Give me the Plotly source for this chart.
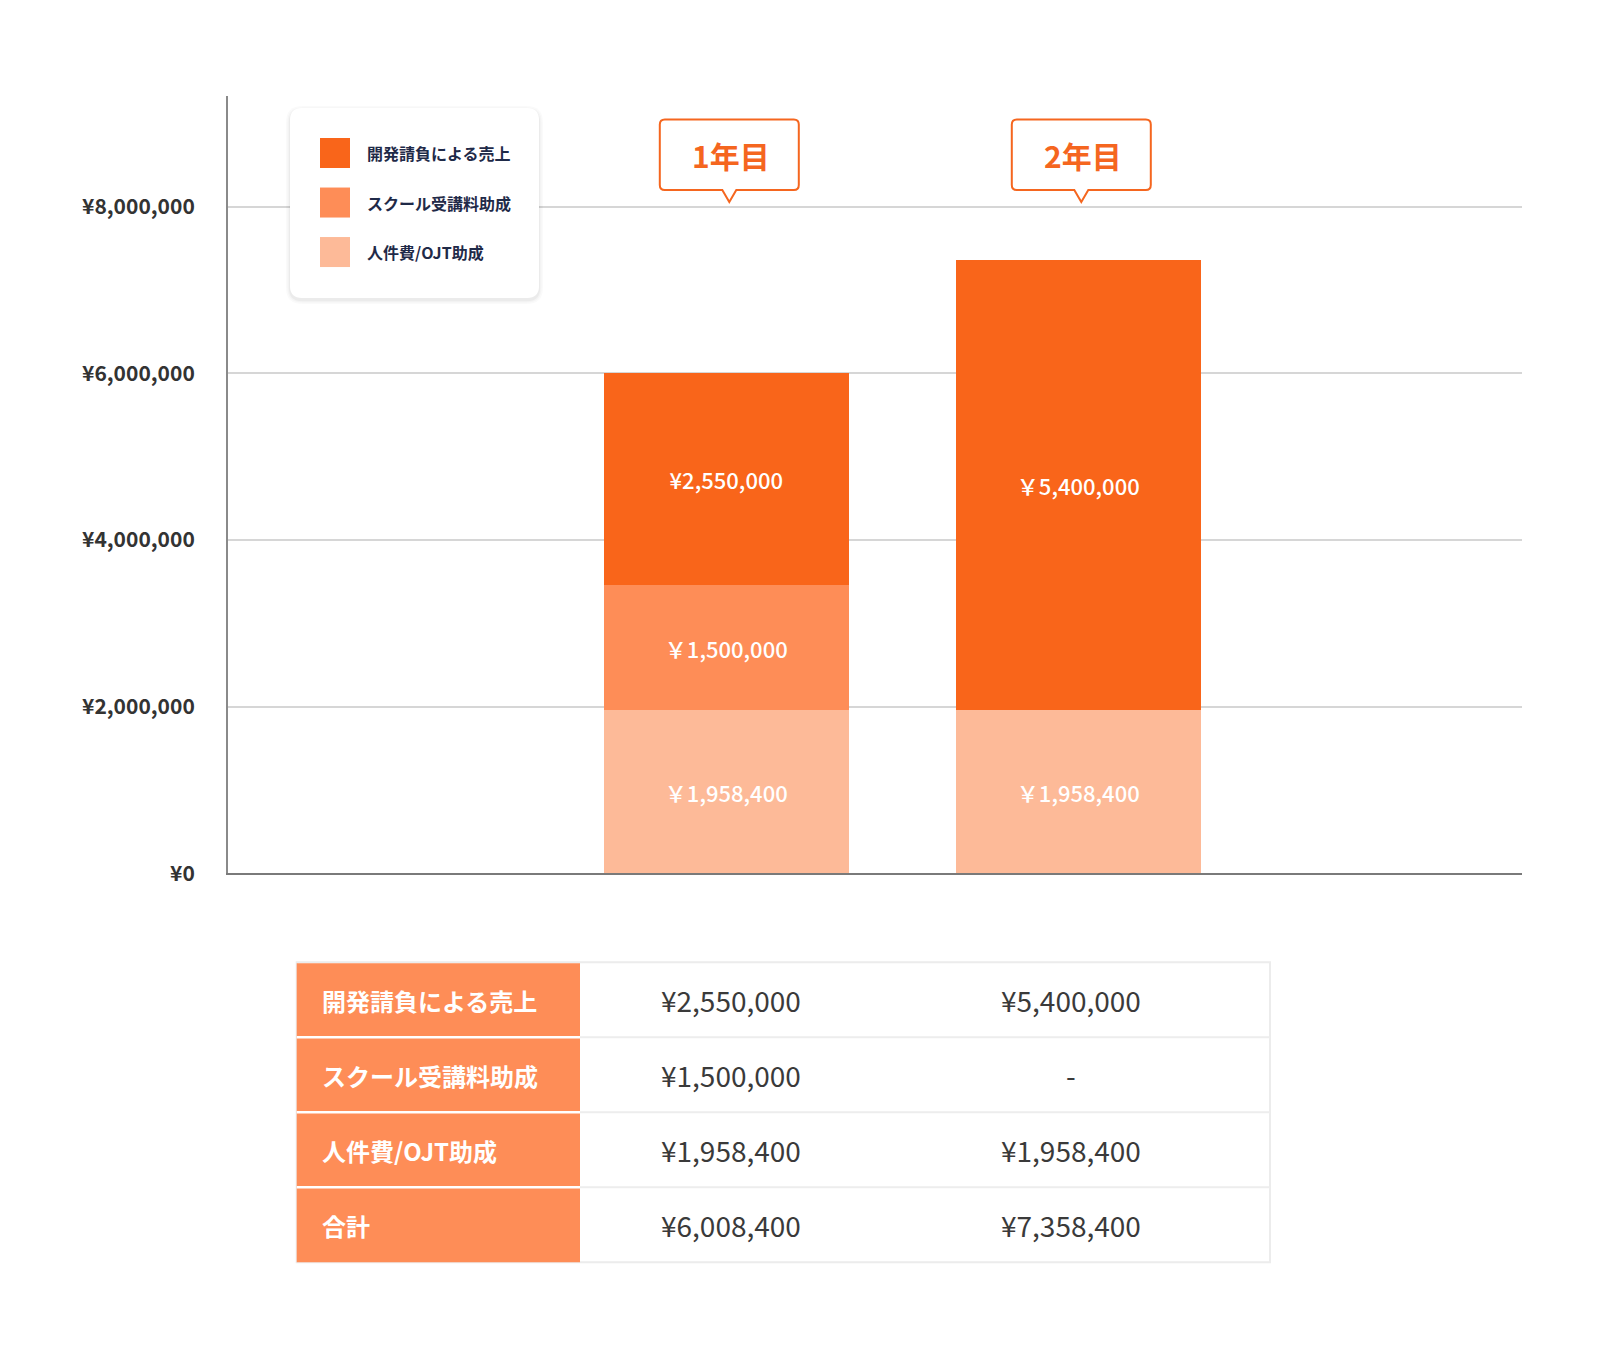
import plotly.graph_objects as go

W, H = 1604, 1346
KY = 1.0099  # vertical calibration of the layout grid
FONT = "Noto Sans CJK JP"

# ---------------- data ----------------
categories = ["1年目", "2年目"]
series_names = ["開発請負による売上", "スクール受講料助成", "人件費/OJT助成"]
dev_sales = [2550000, 5400000]
school_grant = [1500000, None]
ojt_grant = [1958400, 1958400]
totals = [6008400, 7358400]
dev_labels = ["¥2,550,000", "￥5,400,000"]
school_labels = ["￥1,500,000", ""]
ojt_labels = ["￥1,958,400", "￥1,958,400"]
y_tickvals = [0, 2000000, 4000000, 6000000, 8000000]
y_ticktext = ["¥0", "¥2,000,000", "¥4,000,000", "¥6,000,000", "¥8,000,000"]
table_rows = ["開発請負による売上", "スクール受講料助成", "人件費/OJT助成", "合計"]
table_values = [dev_sales, school_grant, ojt_grant, totals]

# ---------------- styles ----------------
C_DEV = "#f9651a"
C_SCHOOL = "#fe8d57"
C_OJT = "#fdba98"
C_CALLOUT = "#f5661f"
C_NAVY = "#1f2a48"


def X(px):
    return px / W


def Y(py):
    return 1 - py * KY / H


fig = go.Figure()
fig.add_trace(go.Bar(x=categories, y=ojt_grant, name=series_names[2], marker_color=C_OJT,
                     text=ojt_labels))
fig.add_trace(go.Bar(x=categories, y=school_grant, name=series_names[1], marker_color=C_SCHOOL,
                     text=school_labels))
fig.add_trace(go.Bar(x=categories, y=dev_sales, name=series_names[0], marker_color=C_DEV,
                     text=dev_labels))
fig.update_traces(width=0.697, marker_line_width=0, textposition="inside",
                  insidetextanchor="middle", textangle=0,
                  textfont=dict(family=FONT, size=22, color="white", weight=500),
                  showlegend=False, hoverinfo="skip")

# plot area: x 228..1522 px, y 96..873 px
fig.update_layout(
    width=W, height=H, margin=dict(l=0, r=0, t=0, b=0),
    paper_bgcolor="white", plot_bgcolor="white", barmode="stack",
    font=dict(family=FONT),
    xaxis=dict(domain=[X(228), X(1522)], range=[-1.4156, 2.2605], showticklabels=False,
               showgrid=False, zeroline=False, showline=True, linecolor="#7a7a7a", linewidth=2,
               ticks="", fixedrange=True),
    yaxis=dict(domain=[Y(873.3), Y(96)], range=[0, 9327000], tickvals=y_tickvals,
               ticktext=y_ticktext, showgrid=True, gridcolor="#d6d6d6", gridwidth=2,
               zeroline=False, showline=True, linecolor="#8a8a8a", linewidth=2, ticks="",
               ticklabelstandoff=27,
               tickfont=dict(family=FONT, size=21, color="#333333", weight="bold")),
)

shapes = []
annotations = []

# ---------------- callouts ----------------
yt, yb, ytip = Y(119.5), Y(190), Y(202)
ry = 5 * KY / H
for cat in categories:
    x0, x1, r, pw, off = -66.5, 72.5, 5, 7, 3
    path = (f"M {x0 + r},{yt} L {x1 - r},{yt} Q {x1},{yt} {x1},{yt - ry} "
            f"L {x1},{yb + ry} Q {x1},{yb} {x1 - r},{yb} "
            f"L {off + pw},{yb} L {off},{ytip} L {off - pw},{yb} "
            f"L {x0 + r},{yb} Q {x0},{yb} {x0},{yb + ry} "
            f"L {x0},{yt - ry} Q {x0},{yt} {x0 + r},{yt} Z")
    shapes.append(dict(type="path", xref="x", yref="paper", xsizemode="pixel", xanchor=cat,
                       path=path, fillcolor="white", line=dict(color=C_CALLOUT, width=2),
                       layer="above"))
    annotations.append(dict(x=cat, xref="x", xshift=5, y=Y(155), yref="paper", text=cat,
                            showarrow=False, xanchor="center", yanchor="middle",
                            font=dict(family=FONT, size=30, color=C_CALLOUT, weight="bold")))


# ---------------- legend (drawn) ----------------
def rounded_rect(px0, py0, px1, py1, rad):
    ax0, ax1 = X(px0), X(px1)
    ay0, ay1 = Y(py0), Y(py1)  # ay0 top, ay1 bottom
    rx, rr = rad / W, rad * KY / H
    return (f"M {ax0 + rx},{ay0} L {ax1 - rx},{ay0} Q {ax1},{ay0} {ax1},{ay0 - rr} "
            f"L {ax1},{ay1 + rr} Q {ax1},{ay1} {ax1 - rx},{ay1} L {ax0 + rx},{ay1} "
            f"Q {ax0},{ay1} {ax0},{ay1 + rr} L {ax0},{ay0 - rr} Q {ax0},{ay0} {ax0 + rx},{ay0} Z")


for i, (dx, alpha) in enumerate([(4, 0.02), (2.5, 0.025), (1.2, 0.035)]):
    shapes.append(dict(type="path", xref="paper", yref="paper",
                       path=rounded_rect(290 - dx, 108 - dx + 2, 539 + dx, 298 + dx + 2, 12 + dx),
                       fillcolor=f"rgba(0,0,0,{alpha})", line=dict(width=0), layer="above"))
shapes.append(dict(type="path", xref="paper", yref="paper",
                   path=rounded_rect(290, 108, 539, 298, 12),
                   fillcolor="white", line=dict(width=0), layer="above"))
legend_colors = [C_DEV, C_SCHOOL, C_OJT]
for i, name in enumerate(series_names):
    cy = 153 + i * 49.5
    shapes.append(dict(type="rect", xref="paper", yref="paper", x0=X(320), x1=X(350),
                       y0=Y(cy - 15), y1=Y(cy + 15), fillcolor=legend_colors[i],
                       line=dict(width=0), layer="above"))
    annotations.append(dict(x=X(365), y=Y(cy), xref="paper", yref="paper", text=name,
                            showarrow=False, xanchor="left", yanchor="middle",
                            font=dict(family=FONT, size=16, color=C_NAVY, weight="bold")))

# ---------------- table (drawn) ----------------
T_L, T_R, T_TOP, ROW_H, HEAD_R = 296.7, 1270, 962, 75, 580
n = len(table_rows)
T_BOT = T_TOP + ROW_H * n
shapes.append(dict(type="rect", xref="paper", yref="paper", x0=X(T_L), x1=X(T_R),
                   y0=Y(T_BOT), y1=Y(T_TOP), fillcolor="white",
                   line=dict(color="#ececec", width=2), layer="above"))
shapes.append(dict(type="rect", xref="paper", yref="paper", x0=X(T_L), x1=X(HEAD_R),
                   y0=Y(T_BOT), y1=Y(T_TOP + 1), fillcolor=C_SCHOOL,
                   line=dict(width=0), layer="above"))
for i in range(1, n):
    yy = Y(T_TOP + ROW_H * i)
    shapes.append(dict(type="line", xref="paper", yref="paper", x0=X(T_L), x1=X(HEAD_R),
                       y0=yy, y1=yy, line=dict(color="white", width=2.5), layer="above"))
    shapes.append(dict(type="line", xref="paper", yref="paper", x0=X(HEAD_R), x1=X(T_R),
                       y0=yy, y1=yy, line=dict(color="#ededed", width=2), layer="above"))

value_cols_px = [731, 1071]
for i, label in enumerate(table_rows):
    cy = T_TOP + ROW_H * i + ROW_H / 2 + 1
    annotations.append(dict(x=X(320), y=Y(cy), xref="paper", yref="paper", text=label,
                            showarrow=False, xanchor="left", yanchor="middle",
                            font=dict(family=FONT, size=24, color="white", weight="bold")))
    for j, v in enumerate(table_values[i]):
        txt = f"¥{v:,}" if v is not None else "-"
        annotations.append(dict(x=X(value_cols_px[j]), y=Y(cy - 1), xref="paper", yref="paper",
                                text=txt, showarrow=False, xanchor="center", yanchor="middle",
                                font=dict(family=FONT, size=28, color="#3a3a3a")))

fig.update_layout(shapes=shapes, annotations=annotations)
fig.write_html("out.html")
